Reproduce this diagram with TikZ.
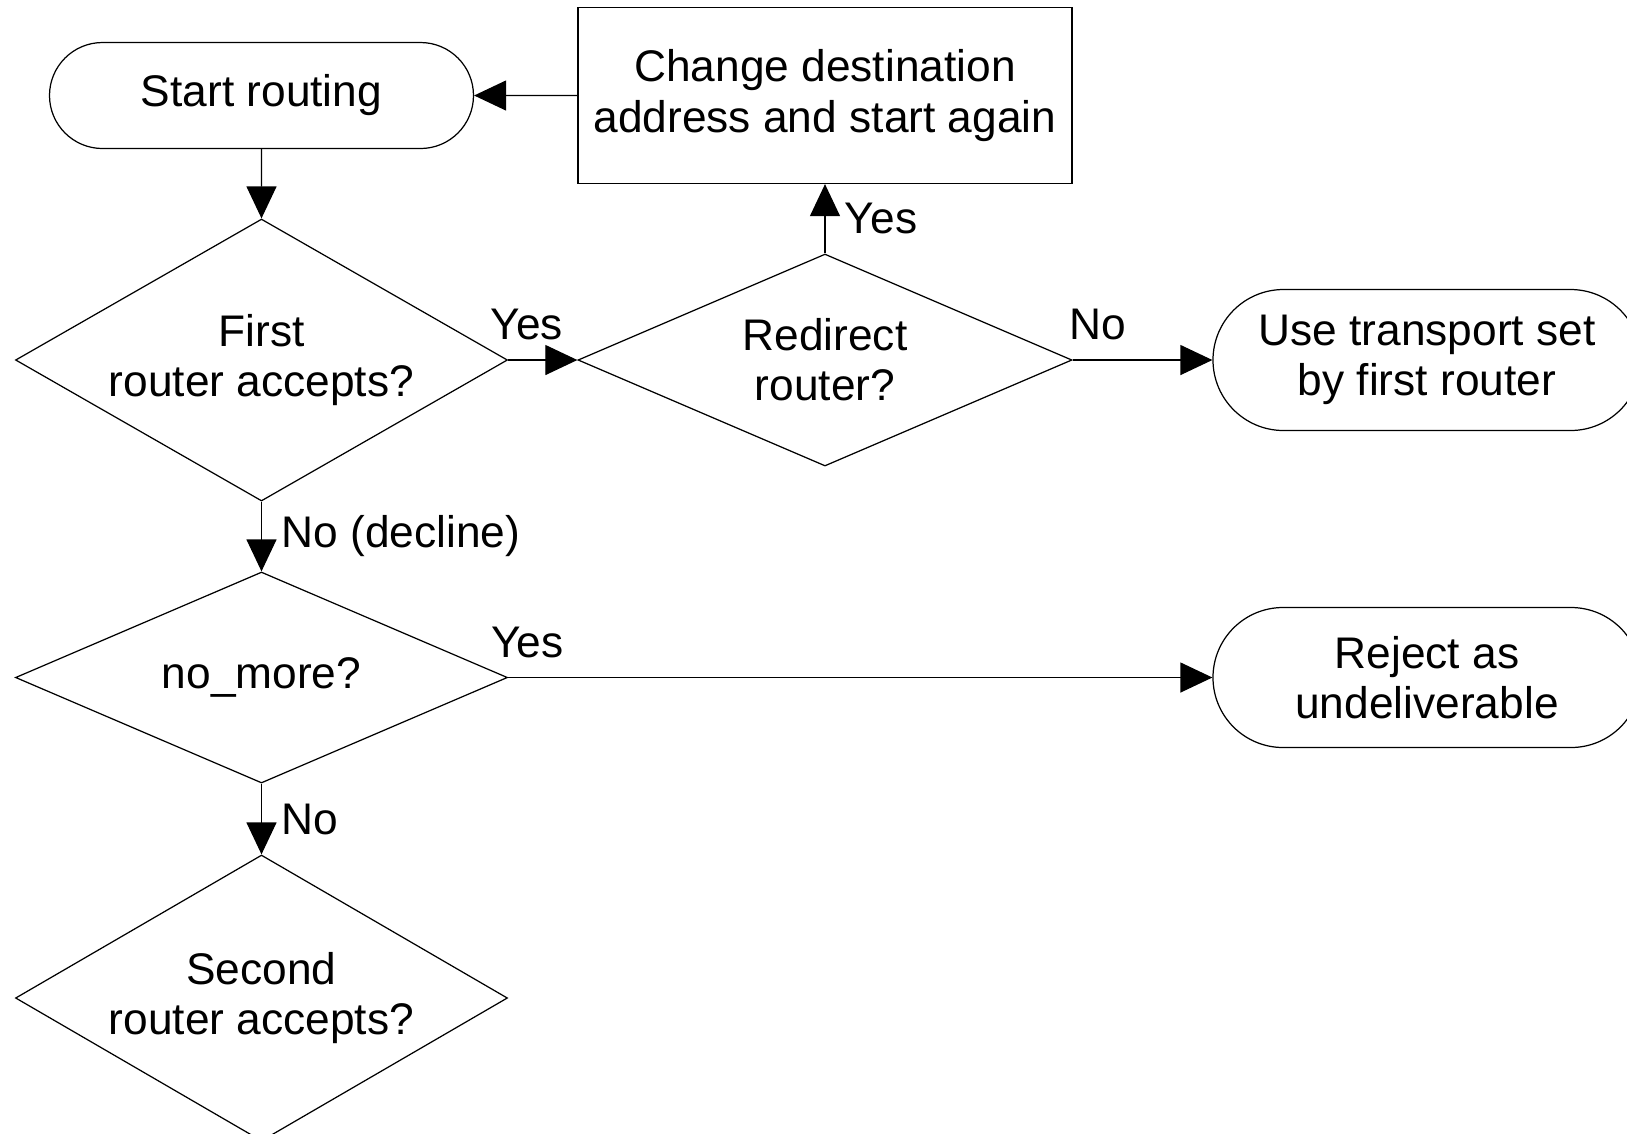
\documentclass[tikz,border=0pt]{standalone}
\usepackage{fontspec}
\setmainfont{Liberation Sans}
\usetikzlibrary{arrows.meta,shapes.geometric,shapes.misc}
\tikzset{every node/.style={ % Same font for every text
            font=\fontsize{12.6}{14.3}\selectfont},
        terminal/.style={ % Start and end points
            draw,
            rounded rectangle,
            minimum width=4.24cm, minimum height=1.06cm,
            inner sep=0pt, align=center},
        decision/.style={ % Questions
            draw,
            diamond, shape aspect=1.8,
            minimum width=4.92cm,
            inner sep=0pt, align=center},
        process/.style={ % Plain steps
            draw,
            rectangle,
            minimum width=4.94cm, minimum height=1.76cm,
            align=center},
        answer/.style={ % Yes / No on the connectors
            inner sep=5.5pt},
        every edge/.style={ % Sets the properties for each connector
            draw,
            -{Triangle[length=0.32cm,width=0.3cm]}, % Filled arrow heads
            line width=0.35pt}
        }

\begin{document}
\begin{tikzpicture}[line width=0.35pt]
    \useasboundingbox (0,0) rectangle (16.27,-11.33);

    \node[terminal] (start)    at (2.615,-0.955) {Start routing};
    \node[process]  (change)   at (8.25,-0.955)  {Change destination\\address and start again};
    \node[decision, minimum height=2.82cm] (first)    at (2.615,-3.60) {First\\router accepts?};
    \node[decision, minimum width=4.94cm, minimum height=2.12cm] (redirect) at (8.25,-3.60) {Redirect\\router?};
    \node[terminal, minimum width=4.28cm, minimum height=1.41cm] (use)    at (14.27,-3.60)  {Use transport set\\by first router};
    \node[decision, minimum height=2.11cm] (nomore)   at (2.615,-6.775) {no\_more?};
    \node[terminal, minimum width=4.28cm, minimum height=1.40cm] (reject) at (14.27,-6.775) {Reject as\\undeliverable};
    \node[decision, minimum height=2.86cm] (second)   at (2.615,-9.98) {Second\\router accepts?};

    \draw (change) edge (start);
    \draw (start)  edge (first);

    \draw (first)    edge node[answer, above, pos=0.27] {Yes} (redirect);
    \draw (redirect) edge node[answer, right] {Yes} (change);
    \draw (redirect) edge node[answer, above, pos=0.18] {No} (use);

    \draw (first)  edge node[answer, right] {No (decline)} (nomore);
    \draw (nomore) edge node[answer, above, pos=0.027] {Yes} (reject);
    \draw (nomore) edge node[answer, right] {No} (second);
\end{tikzpicture}
\end{document}
